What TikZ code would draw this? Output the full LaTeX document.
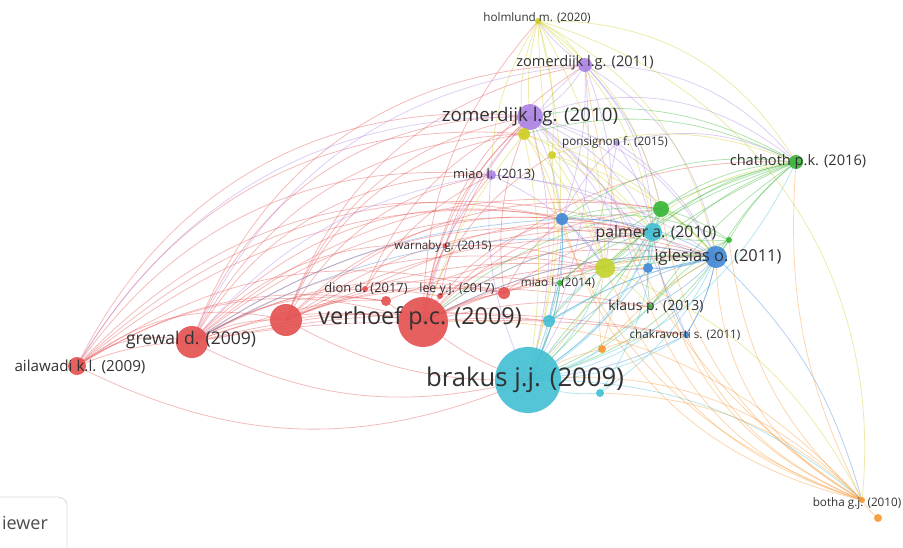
\documentclass[tikz,border=0pt]{standalone}
\usepackage{fontspec}
\setmainfont{Open Sans}
\begin{document}
\begin{tikzpicture}[x=1pt,y=-1pt]
\definecolor{cr}{RGB}{228,82,82}
\definecolor{cp}{RGB}{172,132,228}
\definecolor{cy}{RGB}{208,206,40}
\definecolor{cg}{RGB}{58,182,58}
\definecolor{cb}{RGB}{68,138,215}
\definecolor{cc}{RGB}{68,192,212}
\definecolor{co}{RGB}{246,152,52}
\definecolor{cyg}{RGB}{196,212,48}
\definecolor{labc}{RGB}{50,50,50}
\tikzset{
  edge/.style={line width=0.8pt, draw opacity=0.4},
  dot/.style={circle, fill=#1, fill opacity=0.92, inner sep=0pt},
  lab/.style={font=\fontsize{#1}{#1}\selectfont, text=labc, inner sep=0pt},
  btn/.style={draw=black!15, line width=0.8pt, rounded corners=9pt, fill=white}
}
\useasboundingbox (0,0) rectangle (903,547);
% coordinates of network items
\coordinate (hol) at (538,21);
\coordinate (zo11) at (585,65);
\coordinate (zo10) at (530,117);
\coordinate (y1) at (524,134);
\coordinate (pon) at (617,143);
\coordinate (y2) at (552,155);
\coordinate (mia13) at (491,175);
\coordinate (cha) at (796,162);
\coordinate (g1) at (661,209);
\coordinate (b1) at (562,219);
\coordinate (pal) at (653,232);
\coordinate (g2) at (729,240);
\coordinate (igl) at (716,257);
\coordinate (yg) at (605,268);
\coordinate (b2) at (648,268);
\coordinate (war) at (445,246);
\coordinate (mia14) at (560,283);
\coordinate (dio) at (386,301);
\coordinate (d2) at (365,289);
\coordinate (lee) at (440,296);
\coordinate (r2) at (504,293);
\coordinate (ver) at (423,322);
\coordinate (r3) at (286,320);
\coordinate (gre) at (192,342);
\coordinate (ail) at (77,366);
\coordinate (c1) at (549,321);
\coordinate (kla) at (650,307);
\coordinate (chk) at (686,335);
\coordinate (o1) at (602,349);
\coordinate (bra) at (528,380);
\coordinate (c2) at (600,393);
\coordinate (bot) at (862,500);
\coordinate (o2) at (878,518);
% links
\foreach \a/\b/\bd in {ail/gre/25, ail/r3/25, ail/ver/25, ail/zo10/35, ail/mia13/30, ail/pal/30, ail/igl/30, ail/r2/25, ail/b1/30, bra/ail/25, ail/dio/20, ail/gre/10, ail/y1/32,
 gre/r3/15, gre/ver/15, gre/zo10/35, gre/zo11/35, gre/mia13/30, gre/y1/30, gre/b1/30, gre/pal/25, gre/igl/25, gre/yg/20, gre/g1/25, gre/war/25, gre/r2/20, gre/dio/20, bra/gre/20, gre/c1/10, gre/kla/15, gre/chk/10, gre/lee/20, gre/ver/5,
 r3/ver/10, r3/zo10/30, r3/mia13/25, r3/y1/30, r3/b1/25, r3/pal/20, r3/igl/20, r3/yg/15, r3/r2/15, r3/dio/15, r3/g1/25, bra/r3/15, r3/mia14/15, r3/zo11/30,
 ver/zo10/20, ver/zo11/25, ver/mia13/15, ver/y2/20, ver/b1/20, ver/pal/15, ver/igl/15, ver/yg/10, ver/b2/10, ver/g1/20, ver/war/10, ver/lee/10, ver/r2/10, ver/dio/10, ver/c1/5, ver/kla/10, ver/chk/5, ver/bra/-10, ver/cha/25, ver/hol/20, ver/mia14/10,
 d2/zo10/20, d2/pal/15, dio/igl/15, lee/zo10/15, lee/pal/15, r2/pal/15, r2/igl/10, r2/zo10/15, war/zo10/15, war/pal/15, war/yg/10, r2/b1/10, lee/yg/10, d2/mia13/15}
 \draw[edge, draw=cr] (\a) to[bend left=\bd] (\b);
\foreach \a/\b/\bd in {zo10/zo11/-15, zo10/pal/20, zo10/igl/25, zo10/g1/20, zo10/cha/30, zo10/yg/15, zo10/bra/15, zo10/b1/10, zo10/b2/15, zo10/chk/15, zo10/kla/15, zo11/pal/20, zo11/igl/25, zo11/g1/15, zo11/b1/10, zo11/cha/25, zo11/yg/15, zo11/y1/-10, zo11/bra/15, zo11/hol/10, mia13/pal/15, mia13/igl/15, mia13/yg/15, mia13/bra/-15, mia13/gre/-20, pon/igl/15, pon/pal/10, pon/b1/-10, pon/bra/10, pon/cha/20, zo10/ail/-30, zo10/ver/-15, zo11/gre/-30}
 \draw[edge, draw=cp] (\a) to[bend left=\bd] (\b);
\foreach \a/\b/\bd in {hol/zo10/-10, hol/y1/-15, hol/y2/10, hol/zo11/15, hol/yg/15, hol/pal/20, hol/igl/25, hol/bot/40, hol/bra/15, hol/g1/20, hol/cha/30, hol/b1/-5, hol/mia13/-15, y1/pal/15, y1/igl/15, y1/yg/10, y1/bra/10, y1/b1/10, y1/ver/-10, y2/pal/10, y2/igl/15, y2/yg/10, y2/bra/10, yg/igl/10, yg/bra/10, yg/kla/10, yg/cha/20, yg/bot/20, y2/cha/20}
 \draw[edge, draw=cy] (\a) to[bend left=\bd] (\b);
\foreach \a/\b/\bd in {cha/g1/-15, cha/pal/-15, cha/igl/-10, cha/g2/-10, cha/b1/-20, cha/yg/-15, cha/mia14/-15, cha/kla/-10, cha/y1/-20, cha/b2/-15, cha/zo10/-20, cha/bra/-15, cha/c1/-15, g1/pal/10, g1/igl/10, g1/yg/10, g1/bra/10, g1/b1/-10, g1/g2/10, g2/igl/10, g2/pal/10, g2/yg/10, g2/b1/-15, mia14/igl/15, mia14/pal/15, mia14/bra/10, kla/igl/10, kla/pal/10, kla/bra/10, kla/g2/10, g2/bra/20, g1/ver/-15}
 \draw[edge, draw=cg] (\a) to[bend left=\bd] (\b);
\foreach \a/\b/\bd in {igl/pal/10, igl/b1/-15, igl/b2/10, igl/yg/10, igl/bra/-20, igl/chk/10, igl/ver/-15, igl/c1/-10, igl/kla/10, b1/pal/10, b1/yg/10, b1/bra/10, b1/c1/10, b2/bra/10, b2/pal/10, chk/bra/10, chk/pal/10, chk/igl/-10, igl/bot/15, igl/gre/-20, b1/gre/-15}
 \draw[edge, draw=cb] (\a) to[bend left=\bd] (\b);
\foreach \a/\b/\bd in {bra/pal/-20, bra/igl/-25, bra/yg/-15, bra/c1/-10, bra/c2/-15, bra/kla/-15, bra/chk/-15, bra/b1/-15, bra/g1/-20, bra/cha/-25, bra/bot/20, pal/c1/15, pal/yg/10, pal/b2/10, c1/yg/10, c1/igl/10, c2/igl/-15, c2/pal/-15, c1/mia14/10, bra/mia14/-10, pal/ver/-15, bra/o1/-10}
 \draw[edge, draw=cc] (\a) to[bend left=\bd] (\b);
\foreach \a/\b/\bd in {bot/igl/30, bot/pal/30, bot/yg/25, bot/chk/20, bot/kla/25, bot/bra/-25, bot/c2/-20, bot/ver/-25, bot/cha/15, bot/o2/-10, bot/b1/30, bot/g1/25, bot/g2/20, bot/zo10/30, o1/pal/10, o1/igl/10, o1/yg/10, o1/bra/-10, o1/chk/10, bot/zo11/25}
 \draw[edge, draw=co] (\a) to[bend left=\bd] (\b);
% circles
\node[dot=cy, minimum size=6pt] (holD) at (hol) {};
\node[dot=cp, minimum size=14pt] (zo11D) at (zo11) {};
\node[dot=cp, minimum size=26pt] (zo10D) at (zo10) {};
\node[dot=cy, minimum size=12pt] (y1D) at (y1) {};
\node[dot=cp, minimum size=6pt] (ponD) at (pon) {};
\node[dot=cy, minimum size=8pt] (y2D) at (y2) {};
\node[dot=cp, minimum size=10pt] (mia13D) at (mia13) {};
\node[dot=cg, minimum size=14pt] (chaD) at (cha) {};
\node[dot=cg, minimum size=16pt] (g1D) at (g1) {};
\node[dot=cb, minimum size=12pt] (b1D) at (b1) {};
\node[dot=cc, minimum size=18pt] (palD) at (pal) {};
\node[dot=cg, minimum size=6pt] (g2D) at (g2) {};
\node[dot=cb, minimum size=22pt] (iglD) at (igl) {};
\node[dot=cyg, minimum size=20pt] (ygD) at (yg) {};
\node[dot=cb, minimum size=10pt] (b2D) at (b2) {};
\node[dot=cr, minimum size=5pt] (warD) at (war) {};
\node[dot=cg, minimum size=6pt] (mia14D) at (mia14) {};
\node[dot=cr, minimum size=10pt] (dioD) at (dio) {};
\node[dot=cr, minimum size=6pt] (d2D) at (d2) {};
\node[dot=cr, minimum size=6pt] (leeD) at (lee) {};
\node[dot=cr, minimum size=12pt] (r2D) at (r2) {};
\node[dot=cr, minimum size=50pt] (verD) at (ver) {};
\node[dot=cr, minimum size=32pt] (r3D) at (r3) {};
\node[dot=cr, minimum size=32pt] (greD) at (gre) {};
\node[dot=cr, minimum size=18pt] (ailD) at (ail) {};
\node[dot=cc, minimum size=12pt] (c1D) at (c1) {};
\node[dot=cg, minimum size=6pt] (klaD) at (kla) {};
\node[dot=cb, minimum size=6pt] (chkD) at (chk) {};
\node[dot=co, minimum size=8pt] (o1D) at (o1) {};
\node[dot=cc, minimum size=66pt] (braD) at (bra) {};
\node[dot=cc, minimum size=8pt] (c2D) at (c2) {};
\node[dot=co, minimum size=6pt] (botD) at (bot) {};
\node[dot=co, minimum size=8pt] (o2D) at (o2) {};
% labels
\node[lab=11.7] (holL) at (537,18) {holmlund m. (2020)};
\node[lab=14.6] (zo11L) at (585,63) {zomerdijk l.g. (2011)};
\node[lab=18.7] (zo10L) at (530,117) {zomerdijk l.g. (2010)};
\node[lab=11.7] (ponL) at (615,142) {ponsignon f. (2015)};
\node[lab=12.9] (mia13L) at (494,175) {miao l. (2013)};
\node[lab=14.6] (chaL) at (798,162) {chathoth p.k. (2016)};
\node[lab=15.8] (palL) at (656,233) {palmer a. (2010)};
\node[lab=16.4] (iglL) at (718,257) {iglesias o. (2011)};
\node[lab=11.7] (warL) at (443,246) {warnaby g. (2015)};
\node[lab=11.7] (mia14L) at (558,283) {miao l. (2014)};
\node[lab=12.9] (dioL) at (366,289) {dion d. (2017)};
\node[lab=12.3] (leeL) at (457,289) {lee y.j. (2017)};
\node[lab=23.4] (verL) at (420,318) {verhoef p.c. (2009)};
\node[lab=17.5] (greL) at (191,340) {grewal d. (2009)};
\node[lab=15.2] (ailL) at (80,367) {ailawadi k.l. (2009)};
\node[lab=14] (klaL) at (656,307) {klaus p. (2013)};
\node[lab=11.7] (chkL) at (685,335) {chakravorti s. (2011)};
\node[lab=25.7] (braL) at (525,380) {brakus j.j. (2009)};
\node[lab=11.7] (botL) at (857,503) {botha g.j. (2010)};
% button
\draw[btn] (-20,497) rectangle (67,560);
\node[font=\fontsize{18}{18}\selectfont, text=black!70, inner sep=0pt] (btnL) at (25,523) {iewer};
\end{tikzpicture}
\end{document}
